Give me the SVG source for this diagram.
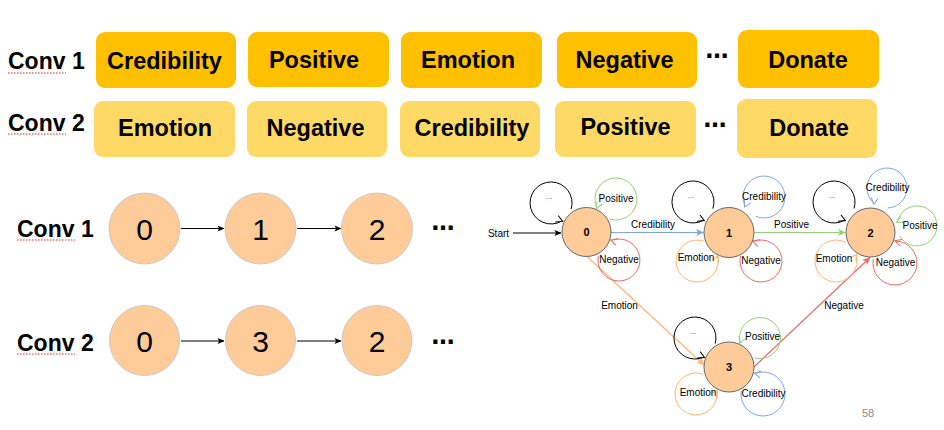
<svg xmlns="http://www.w3.org/2000/svg" width="944" height="430" viewBox="0 0 944 430">
<defs>
<style>
.lbl{font-family:"Liberation Sans",Arial,sans-serif;font-weight:bold;font-size:23px;fill:#000}
.b1{fill:#FFC000}
.b2{fill:#FFD966}
.bt{font-family:"Liberation Sans",Arial,sans-serif;font-weight:bold;font-size:23.5px;text-anchor:middle;fill:#000}
.dots{font-family:"DejaVu Sans",sans-serif;font-weight:bold;font-size:23px;text-anchor:middle;fill:#000}
.squig{stroke:#E02020;stroke-width:1.2;stroke-dasharray:1.5 1.5;fill:none}
.bn{fill:#FFCC99;stroke:#C8C8C8;stroke-width:1}
.bnt{font-family:"Liberation Sans",Arial,sans-serif;font-size:30px;text-anchor:middle;fill:#000}
.sn{fill:#FFCC99;stroke:#666;stroke-width:1}
.snt{font-family:"Liberation Sans",Arial,sans-serif;font-size:11px;font-weight:bold;text-anchor:middle;fill:#000}
.t10{font-family:"Liberation Sans",Arial,sans-serif;font-size:10px;text-anchor:middle;fill:#000}
.el{font-family:"Liberation Sans",Arial,sans-serif;font-size:8px;text-anchor:middle;fill:#444}
.loop{fill:none;stroke-width:1}
.k{stroke:#000}
.bl{stroke:#7EA6E0}
.gr{stroke:#97D077}
.rd{stroke:#EA6B66}
.or{stroke:#FFB570}
.edge{fill:none;stroke-width:1.2}
</style>
<marker id="mk" viewBox="0 0 8 8" refX="7.5" refY="4" markerWidth="7" markerHeight="7" markerUnits="userSpaceOnUse" orient="auto"><path d="M0,0.5 L8,4 L0,7.5 L2,4 Z" fill="#000"/></marker>
<marker id="mb" viewBox="0 0 8 8" refX="7.5" refY="4" markerWidth="8" markerHeight="8" markerUnits="userSpaceOnUse" orient="auto"><path d="M0,0.5 L8,4 L0,7.5 L2,4 Z" fill="#7EA6E0"/></marker>
<marker id="mg" viewBox="0 0 8 8" refX="7.5" refY="4" markerWidth="8" markerHeight="8" markerUnits="userSpaceOnUse" orient="auto"><path d="M0,0.5 L8,4 L0,7.5 L2,4 Z" fill="#97D077"/></marker>
<marker id="mr" viewBox="0 0 8 8" refX="7.5" refY="4" markerWidth="8" markerHeight="8" markerUnits="userSpaceOnUse" orient="auto"><path d="M0,0.5 L8,4 L0,7.5 L2,4 Z" fill="#EA6B66"/></marker>
<marker id="mo" viewBox="0 0 8 8" refX="7.5" refY="4" markerWidth="8" markerHeight="8" markerUnits="userSpaceOnUse" orient="auto"><path d="M0,0.5 L8,4 L0,7.5 L2,4 Z" fill="#FFB570"/></marker>
<marker id="ok" viewBox="0 0 8 8" refX="7" refY="4" markerWidth="8" markerHeight="8" markerUnits="userSpaceOnUse" orient="auto"><path d="M0.5,0.5 L7,4 L0.5,7.5" fill="none" stroke="#000" stroke-width="1"/></marker>
<marker id="ob" viewBox="0 0 8 8" refX="7" refY="4" markerWidth="8" markerHeight="8" markerUnits="userSpaceOnUse" orient="auto"><path d="M0.5,0.5 L7,4 L0.5,7.5" fill="none" stroke="#7EA6E0" stroke-width="1"/></marker>
<marker id="og" viewBox="0 0 8 8" refX="7" refY="4" markerWidth="8" markerHeight="8" markerUnits="userSpaceOnUse" orient="auto"><path d="M0.5,0.5 L7,4 L0.5,7.5" fill="none" stroke="#97D077" stroke-width="1"/></marker>
<marker id="or" viewBox="0 0 8 8" refX="7" refY="4" markerWidth="8" markerHeight="8" markerUnits="userSpaceOnUse" orient="auto"><path d="M0.5,0.5 L7,4 L0.5,7.5" fill="none" stroke="#EA6B66" stroke-width="1"/></marker>
<marker id="oo" viewBox="0 0 8 8" refX="7" refY="4" markerWidth="8" markerHeight="8" markerUnits="userSpaceOnUse" orient="auto"><path d="M0.5,0.5 L7,4 L0.5,7.5" fill="none" stroke="#FFB570" stroke-width="1"/></marker>
</defs>
<rect width="944" height="430" fill="#fff"/>

<!-- Row labels -->
<g id="labels">
<text class="lbl" x="8" y="69">Conv 1</text>
<line class="squig" x1="8" y1="73" x2="66" y2="73"/>
<text class="lbl" x="8" y="131">Conv 2</text>
<line class="squig" x1="8" y1="134" x2="66" y2="134"/>
<text class="lbl" x="17" y="237">Conv 1</text>
<line class="squig" x1="17" y1="240" x2="75" y2="240"/>
<text class="lbl" x="17" y="351">Conv 2</text>
<line class="squig" x1="17" y1="354" x2="75" y2="354"/>
</g>

<!-- Sequence boxes -->
<g id="c1-credibility"><rect class="b1" x="96" y="32" width="140" height="56" rx="9"/><text class="bt" x="164.5" y="69">Credibility</text></g>
<g id="c1-positive"><rect class="b1" x="248" y="32" width="141" height="55" rx="9"/><text class="bt" x="314" y="68">Positive</text></g>
<g id="c1-emotion"><rect class="b1" x="401" y="32" width="141" height="56" rx="9"/><text class="bt" x="468" y="68">Emotion</text></g>
<g id="c1-negative"><rect class="b1" x="557" y="32" width="140" height="56" rx="9"/><text class="bt" x="624.5" y="68">Negative</text></g>
<g id="c1-dots"><text class="dots" x="717" y="58">…</text></g>
<g id="c1-donate"><rect class="b1" x="738" y="30" width="141" height="58" rx="9"/><text class="bt" x="808" y="68">Donate</text></g>

<g id="c2-emotion"><rect class="b2" x="94" y="101" width="141" height="56" rx="9"/><text class="bt" x="165" y="136">Emotion</text></g>
<g id="c2-negative"><rect class="b2" x="247" y="101" width="140" height="56" rx="9"/><text class="bt" x="315.5" y="136">Negative</text></g>
<g id="c2-credibility"><rect class="b2" x="400" y="101" width="140" height="56" rx="9"/><text class="bt" x="472" y="136">Credibility</text></g>
<g id="c2-positive"><rect class="b2" x="555" y="101" width="141" height="56" rx="9"/><text class="bt" x="625.5" y="135">Positive</text></g>
<g id="c2-dots"><text class="dots" x="715" y="127">…</text></g>
<g id="c2-donate"><rect class="b2" x="737" y="99" width="140" height="59" rx="9"/><text class="bt" x="809" y="136">Donate</text></g>

<!-- Connectors -->
<g id="connectors">
<line class="edge k" x1="181" y1="228.5" x2="224" y2="228.5" marker-end="url(#mk)"/>
<line class="edge k" x1="297" y1="228.5" x2="341" y2="228.5" marker-end="url(#mk)"/>
<line class="edge k" x1="181" y1="341" x2="224" y2="341" marker-end="url(#mk)"/>
<line class="edge k" x1="297" y1="341" x2="341" y2="341" marker-end="url(#mk)"/>

<line class="edge k" x1="513" y1="233" x2="561" y2="233" marker-end="url(#mk)"/>
<line class="edge bl" x1="611" y1="232.5" x2="703.5" y2="232.5" marker-end="url(#mb)"/>
<line class="edge gr" x1="754" y1="232.5" x2="845.5" y2="232.5" marker-end="url(#mg)"/>
<line class="edge or" x1="587" y1="256.5" x2="704" y2="365" marker-end="url(#mo)"/>
<line class="edge rd" x1="754" y1="367" x2="870" y2="257.5" marker-end="url(#mr)"/>

<!-- self loops node 0 -->
<path class="loop k" d="M571.1,209.2 A21,21 0 1 0 561.8,221 L562.7,221.4" marker-end="url(#ok)"/>
<path class="loop gr" d="M609.6,219 A21,21 0 1 0 596.8,207.6 L596.4,208.5" marker-end="url(#og)"/>
<path class="loop rd" d="M598.4,255.7 A21,21 0 1 0 611.7,240.3 L610.8,240" marker-end="url(#or)"/>
<!-- node 1 -->
<path class="loop k" d="M712.9,208.6 A21,21 0 1 0 703.4,220.2 L704.3,220.6" marker-end="url(#ok)"/>
<path class="loop bl" d="M755.9,216.4 A21,21 0 1 0 745,206 L744.5,206.9" marker-end="url(#ob)"/>
<path class="loop or" d="M703.6,241.1 A21,21 0 1 0 717.6,256.7 L718,255.8" marker-end="url(#oo)"/>
<path class="loop rd" d="M740.6,256 A21,21 0 1 0 753.7,241.3 L752.8,241" marker-end="url(#or)"/>
<!-- node 2 -->
<path class="loop k" d="M854,208.5 A21,21 0 1 0 844.5,220.2 L845.4,220.6" marker-end="url(#ok)"/>
<path class="loop bl" d="M887.6,208 A20,20 0 1 0 874.1,203.3 L874,204.3" marker-end="url(#ob)"/>
<path class="loop gr" d="M899.7,236 A20,20 0 1 0 897.4,221.8 L896.5,222.2" marker-end="url(#og)"/>
<path class="loop rd" d="M873.3,259.1 A22,22 0 1 0 895.8,241 L894.9,240.7" marker-end="url(#or)"/>
<path class="loop or" d="M845.7,242.4 A21,21 0 1 0 856.1,255 L856.6,254.2" marker-end="url(#oo)"/>
<!-- node 3 -->
<path class="loop k" d="M715.2,343.6 A21,21 0 1 0 703.7,357.1 L704.6,357.5" marker-end="url(#ok)"/>
<path class="loop gr" d="M754.4,357.7 A20.5,20.5 0 1 0 740,342.3 L739.6,343.2" marker-end="url(#og)"/>
<path class="loop or" d="M703.1,374.2 A21,21 0 1 0 716.8,391 L717.3,390.1" marker-end="url(#oo)"/>
<path class="loop bl" d="M741.2,391.1 A22,22 0 1 0 755.3,373.4 L754.3,373.2" marker-end="url(#ob)"/>

<!-- edge labels -->
<text class="t10" x="498.5" y="237">Start</text>
<text class="t10" x="653" y="228">Credibility</text>
<text class="t10" x="791.5" y="228">Positive</text>
<text class="t10" x="619.5" y="309">Emotion</text>
<text class="t10" x="844" y="309">Negative</text>

<!-- loop labels -->
<text class="el" x="549" y="199">...</text>
<text class="t10" x="616" y="202">Positive</text>
<text class="t10" x="619" y="263">Negative</text>
<text class="el" x="691" y="198">...</text>
<text class="t10" x="764" y="200">Credibility</text>
<text class="t10" x="696" y="261">Emotion</text>
<text class="t10" x="761" y="264">Negative</text>
<text class="el" x="832" y="198">...</text>
<text class="t10" x="887.5" y="191">Credibility</text>
<text class="t10" x="920" y="229">Positive</text>
<text class="t10" x="895.5" y="266">Negative</text>
<text class="t10" x="834" y="262">Emotion</text>
<text class="el" x="693" y="334">...</text>
<text class="t10" x="762.5" y="340">Positive</text>
<text class="t10" x="698" y="396">Emotion</text>
<text class="t10" x="763.5" y="397">Credibility</text>
</g>

<!-- Sequence nodes (middle) -->
<g id="s1-0"><circle class="bn" cx="144.5" cy="228.5" r="35.5"/><text class="bnt" x="144.5" y="240">0</text></g>
<g id="s1-1"><circle class="bn" cx="260.5" cy="228.5" r="35.5"/><text class="bnt" x="260.5" y="240">1</text></g>
<g id="s1-2"><circle class="bn" cx="377" cy="228.5" r="35.5"/><text class="bnt" x="377" y="240">2</text></g>
<g id="s1-dots"><text class="dots" x="443" y="230">…</text></g>
<g id="s2-0"><circle class="bn" cx="144.5" cy="340.5" r="35"/><text class="bnt" x="144.5" y="352">0</text></g>
<g id="s2-3"><circle class="bn" cx="260.5" cy="340.5" r="35"/><text class="bnt" x="260.5" y="352">3</text></g>
<g id="s2-2"><circle class="bn" cx="377" cy="340.5" r="35"/><text class="bnt" x="377" y="352">2</text></g>
<g id="s2-dots"><text class="dots" x="443" y="344">…</text></g>

<!-- State graph nodes -->
<g id="state-0"><circle class="sn" cx="586.5" cy="232" r="24.5"/><text class="snt" x="586.5" y="236">0</text></g>
<g id="state-1"><circle class="sn" cx="729" cy="232.5" r="25"/><text class="snt" x="729" y="236.5">1</text></g>
<g id="state-2"><circle class="sn" cx="870.5" cy="232.5" r="24.5"/><text class="snt" x="870.5" y="236.5">2</text></g>
<g id="state-3"><circle class="sn" cx="729" cy="367" r="25"/><text class="snt" x="729" y="371">3</text></g>

<text x="862" y="417" font-family="Liberation Sans, Arial, sans-serif" font-size="11" fill="#888">58</text>
</svg>
